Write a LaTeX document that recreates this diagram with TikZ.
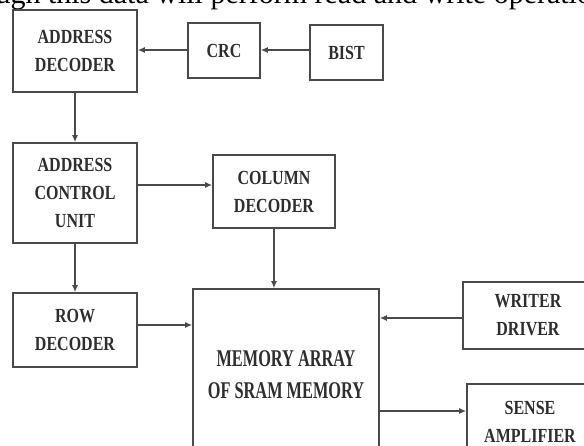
\documentclass[tikz,border=0pt]{standalone}
\usepackage{fontspec}
\setmainfont{Liberation Serif}
\newfontfamily\boxfont[FakeStretch=0.8]{Liberation Serif}
\newfontfamily\memfont[FakeStretch=0.68]{Liberation Serif}
\usetikzlibrary{arrows.meta}
\definecolor{linec}{HTML}{4A4A4A}
\definecolor{textc}{HTML}{2E2E2E}
\tikzset{
  blk/.style={draw=linec, line width=1.6pt, fill=white, inner sep=0pt, align=center,
    text=textc, font=\boxfont\bfseries\fontsize{20}{28}\selectfont},
  memblk/.style={blk, font=\memfont\bfseries\fontsize{24}{32}\selectfont},
  arr/.style={draw=linec, line width=1.3pt, -{Latex[length=7pt,width=6pt]}},
  titletext/.style={anchor=base west, inner sep=0pt, font=\fontsize{30}{36}\selectfont}
}
\begin{document}
\begin{tikzpicture}[x=1pt,y=-1pt]
\useasboundingbox (0,0) rectangle (584,446);
\begin{scope}
\clip (0,0) rectangle (584,446);
\node[titletext] (title) at (-63,4) {Through this data will perform read and write operation};
\node[blk, minimum width=124pt, minimum height=82pt] (ad) at (75,51) {ADDRESS\\DECODER};
\node[blk, minimum width=72pt, minimum height=55pt] (crc) at (224,50.5) {CRC};
\node[blk, minimum width=73pt, minimum height=55pt] (bist) at (346.5,52.5) {BIST};
\node[blk, minimum width=124pt, minimum height=100pt] (acu) at (75,193) {ADDRESS\\CONTROL\\UNIT};
\node[blk, minimum width=122pt, minimum height=73pt] (cd) at (274,191.5) {COLUMN\\DECODER};
\node[blk, minimum width=124pt, minimum height=74pt] (row) at (75,330) {ROW\\DECODER};
\node[memblk, minimum width=186pt, minimum height=172pt] (mem) at (286,375) {MEMORY ARRAY\\OF SRAM MEMORY};
\node[blk, minimum width=130pt, minimum height=67pt] (wd) at (528,315.5) {WRITER\\DRIVER};
\node[blk, minimum width=126pt, minimum height=76pt] (sa) at (530,422) {SENSE\\AMPLIFIER};
\draw[arr] (bist.west |- 0,50) -- (crc.east |- 0,50);
\draw[arr] (crc.west |- 0,50) -- (ad.east |- 0,50);
\draw[arr] (ad.south) -- (acu.north);
\draw[arr] (acu.east |- 0,185) -- (cd.west |- 0,185);
\draw[arr] (acu.south) -- (row.north);
\draw[arr] (cd.south) -- (cd.south |- mem.north);
\draw[arr] (row.east |- 0,325) -- (mem.west |- 0,325);
\draw[arr] (wd.west |- 0,318) -- (mem.east |- 0,318);
\draw[arr] (mem.east |- 0,411) -- (sa.west |- 0,411);
\end{scope}
\end{tikzpicture}
\end{document}
